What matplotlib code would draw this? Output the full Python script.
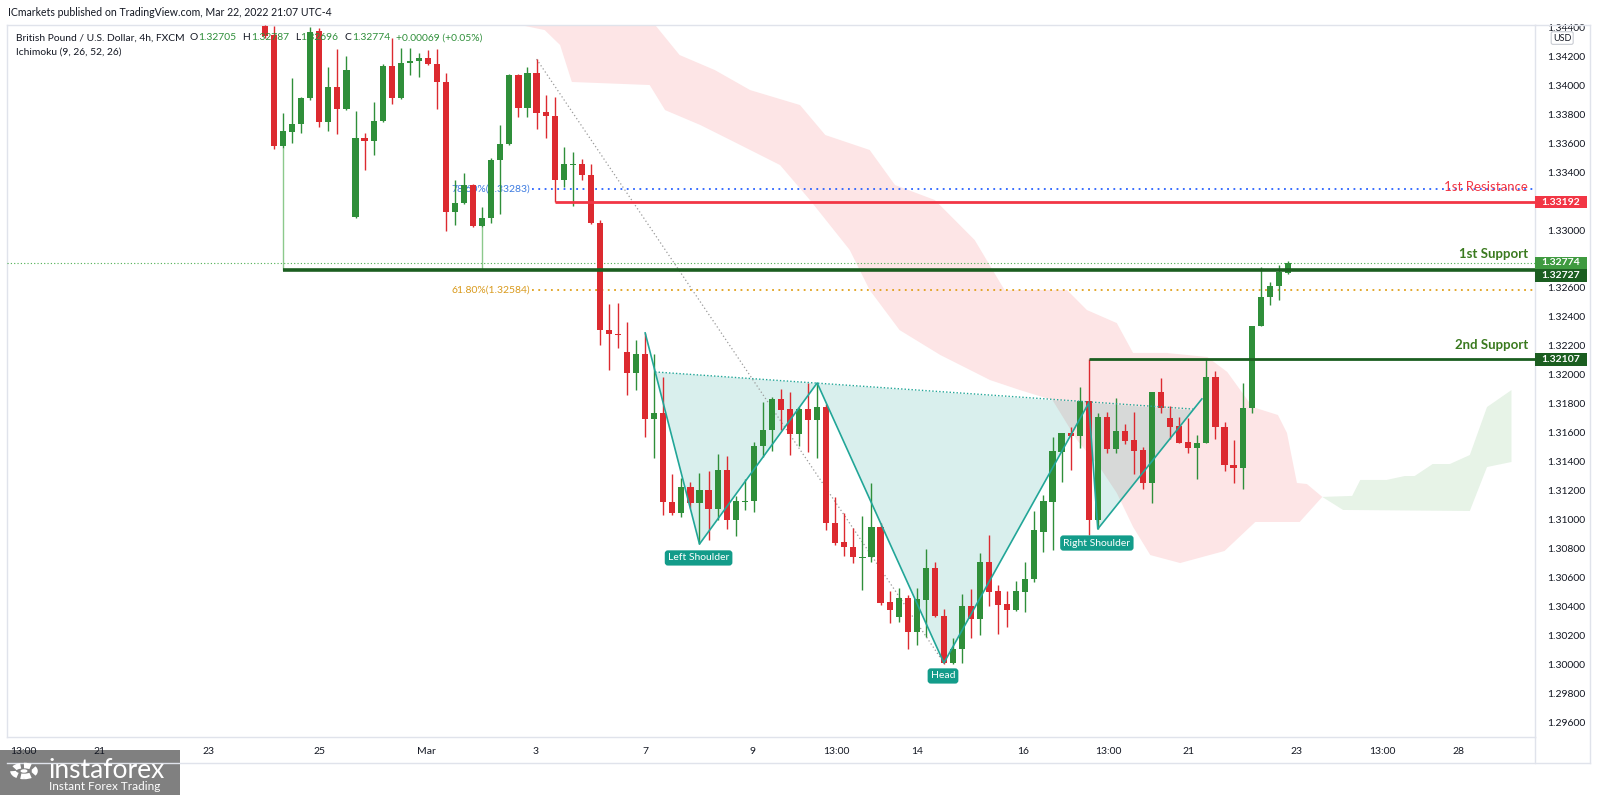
import numpy as np
import matplotlib
matplotlib.use('Agg')
import matplotlib.pyplot as plt
from matplotlib import transforms
from matplotlib.patches import Rectangle, Circle
from matplotlib.lines import Line2D

plt.rcParams['font.family'] = ['Lato', 'DejaVu Sans']

# GBPUSD 4h candles (first visible bar = index 0)
opens = [1.34407, 1.34345, 1.33579, 1.33676, 1.33731, 1.33910, 1.34372, 1.33745, 1.33986, 1.33834,
         1.33090, 1.33634, 1.33614, 1.33752, 1.34131, 1.33910, 1.34152, 1.34165, 1.34186, 1.34145,
         1.34021, 1.33124, 1.33186, 1.33310, 1.33027, 1.33083, 1.33483, 1.33593, 1.34069, 1.33841,
         1.34083, 1.33814, 1.33786, 1.33345, 1.33448, 1.33455, 1.33379, 1.33048, 1.32310, 1.32283,
         1.32159, 1.32014, 1.32145, 1.31697, 1.31738, 1.31124, 1.31048, 1.31227, 1.31117, 1.31207,
         1.31076, 1.31345, 1.31000, 1.31124, 1.31131, 1.31510, 1.31621, 1.31835, 1.31766, 1.31593,
         1.31766, 1.31690, 1.31779, 1.30979, 1.30848, 1.30814, 1.30738, 1.30745, 1.30952, 1.30434,
         1.30331, 1.30462, 1.30228, 1.30448, 1.30669, 1.30338, 1.30014, 1.30110, 1.30407, 1.30317,
         1.30710, 1.30510, 1.30421, 1.30379, 1.30503, 1.30593, 1.30917, 1.31124, 1.31469, 1.31600,
         1.31579, 1.31821, 1.31000, 1.31710, 1.31490, 1.31614, 1.31552, 1.31483, 1.31255, 1.31883,
         1.31703, 1.31648, 1.31538, 1.31496, 1.31531, 1.31986, 1.31641, 1.31379, 1.31359, 1.31772,
         1.32338, 1.32538, 1.32614, 1.32705]
highs = [1.34414, 1.34407, 1.33807, 1.34048, 1.33917, 1.34400, 1.34393, 1.34124, 1.34248, 1.34200,
         1.33820, 1.33669, 1.33883, 1.34145, 1.34324, 1.34255, 1.34255, 1.34221, 1.34241, 1.34248,
         1.34083, 1.33345, 1.33393, 1.33317, 1.33159, 1.33496, 1.33724, 1.34076, 1.34076, 1.34124,
         1.34179, 1.33931, 1.33917, 1.33572, 1.33538, 1.33490, 1.33455, 1.33069, 1.32490, 1.32497,
         1.32365, 1.32241, 1.32290, 1.32145, 1.31986, 1.31317, 1.31290, 1.31262, 1.31324, 1.31338,
         1.31455, 1.31441, 1.31166, 1.31283, 1.31538, 1.31814, 1.31848, 1.31903, 1.31883, 1.31779,
         1.31945, 1.31945, 1.31800, 1.31159, 1.31048, 1.30945, 1.31028, 1.31255, 1.30979, 1.30510,
         1.30531, 1.30483, 1.30531, 1.30800, 1.30710, 1.30386, 1.30186, 1.30490, 1.30524, 1.30772,
         1.30896, 1.30552, 1.30510, 1.30579, 1.30710, 1.31062, 1.31172, 1.31572, 1.31600, 1.31641,
         1.31917, 1.32110, 1.31738, 1.31745, 1.31841, 1.31662, 1.31745, 1.31503, 1.31883, 1.31979,
         1.31786, 1.31710, 1.31703, 1.31586, 1.32110, 1.32028, 1.31676, 1.31552, 1.31945, 1.32338,
         1.32745, 1.32641, 1.32759, 1.32787]
lows = [1.34324, 1.33558, 1.33565, 1.33600, 1.33669, 1.33896, 1.33710, 1.33683, 1.33662, 1.33827,
        1.33083, 1.33414, 1.33517, 1.33745, 1.33869, 1.33903, 1.34069, 1.34055, 1.34138, 1.33834,
        1.32993, 1.33034, 1.33179, 1.33021, 1.33021, 1.33048, 1.33110, 1.33586, 1.33779, 1.33779,
        1.33696, 1.33634, 1.33193, 1.33296, 1.33166, 1.33345, 1.33041, 1.32207, 1.32034, 1.32186,
        1.31862, 1.31897, 1.31572, 1.31427, 1.31034, 1.31034, 1.31021, 1.31083, 1.30834, 1.30862,
        1.31000, 1.30938, 1.30890, 1.31069, 1.31055, 1.31434, 1.31476, 1.31621, 1.31448, 1.31510,
        1.31469, 1.31427, 1.30931, 1.30827, 1.30752, 1.30703, 1.30517, 1.30710, 1.30414, 1.30290,
        1.30297, 1.30110, 1.30138, 1.30193, 1.30331, 1.30007, 1.30007, 1.30014, 1.30186, 1.30207,
        1.30407, 1.30214, 1.30262, 1.30372, 1.30366, 1.30572, 1.30779, 1.30793, 1.31262, 1.31345,
        1.31496, 1.30896, 1.30938, 1.31462, 1.31462, 1.31524, 1.31317, 1.31214, 1.31117, 1.31738,
        1.31559, 1.31531, 1.31462, 1.31283, 1.31531, 1.31559, 1.31338, 1.31255, 1.31214, 1.31738,
        1.32338, 1.32483, 1.32517, 1.32696]
closes = [1.34338, 1.33579, 1.33683, 1.33731, 1.33910, 1.34365, 1.33745, 1.33986, 1.33834, 1.34103,
          1.33634, 1.33614, 1.33752, 1.34131, 1.33910, 1.34152, 1.34165, 1.34186, 1.34145, 1.34021,
          1.33124, 1.33186, 1.33310, 1.33027, 1.33083, 1.33483, 1.33593, 1.34069, 1.33841, 1.34083,
          1.33807, 1.33786, 1.33345, 1.33455, 1.33455, 1.33379, 1.33048, 1.32310, 1.32283, 1.32276,
          1.32014, 1.32145, 1.31697, 1.31738, 1.31124, 1.31048, 1.31227, 1.31117, 1.31207, 1.31076,
          1.31345, 1.31000, 1.31131, 1.31131, 1.31510, 1.31621, 1.31835, 1.31759, 1.31593, 1.31766,
          1.31690, 1.31779, 1.30979, 1.30841, 1.30814, 1.30745, 1.30745, 1.30952, 1.30428, 1.30379,
          1.30462, 1.30228, 1.30455, 1.30669, 1.30338, 1.30014, 1.30110, 1.30407, 1.30317, 1.30710,
          1.30503, 1.30414, 1.30379, 1.30510, 1.30593, 1.30931, 1.31131, 1.31476, 1.31600, 1.31579,
          1.31821, 1.31000, 1.31710, 1.31490, 1.31614, 1.31545, 1.31476, 1.31255, 1.31883, 1.31772,
          1.31641, 1.31531, 1.31496, 1.31531, 1.31986, 1.31641, 1.31379, 1.31359, 1.31772, 1.32338,
          1.32538, 1.32614, 1.32710, 1.32774]

# time axis labels (bar index, text)
tick_pos = [-26.7, -18.3, -6.2, 6.0, 17.8, 29.9, 42.0, 53.9, 63.1, 72.0, 83.8, 93.2, 102.0, 114.0, 123.4, 131.8]
tick_lbl = ['13:00', '21', '23', '25', 'Mar', '3', '7', '9', '13:00', '14', '16', '13:00', '21', '23', '13:00', '28']

# ichimoku cloud outlines (bar index, price)
red_top_x = [28.2, 43.1, 45.8, 49.7, 53.6, 59.1, 61.9, 66.8, 69.6, 74.0, 78.4, 81.7, 88.6, 90.8, 94.1,
             95.9, 99.6, 104.1, 106.3, 109.1, 111.9, 112.9, 114.0, 115.1, 116.8]
red_top_p = [1.34414, 1.34414, 1.34207, 1.34103, 1.33965, 1.33862, 1.33655, 1.33552, 1.33310, 1.33207,
             1.32931, 1.32586, 1.32586, 1.32448, 1.32358, 1.32152, 1.32152, 1.32124, 1.32021, 1.31779,
             1.31724, 1.31600, 1.31255, 1.31248, 1.31159]
red_bot_x = [28.2, 30.9, 32.6, 33.9, 42.5, 44.2, 48.1, 51.4, 56.9, 60.2, 64.6, 66.8, 70.1, 74.6, 80.1,
             83.4, 87.0, 89.7, 92.2, 94.1, 95.9, 97.8, 101.1, 106.0, 109.4, 114.3, 116.8]
red_bot_p = [1.34414, 1.34379, 1.34276, 1.34021, 1.34000, 1.33827, 1.33724, 1.33621, 1.33448, 1.33207,
             1.32862, 1.32586, 1.32310, 1.32138, 1.31965, 1.31896, 1.31827, 1.31552, 1.31365, 1.31186,
             1.30952, 1.30758, 1.30703, 1.30786, 1.30986, 1.30986, 1.31159]
green_top_x = [116.8, 120.1, 121.0, 123.9, 125.9, 127.0, 129.0, 130.9, 133.1, 135.0, 137.7]
green_top_p = [1.31159, 1.31166, 1.31276, 1.31276, 1.31303, 1.31303, 1.31386, 1.31386, 1.31448, 1.31779, 1.31896]
green_bot_x = [116.8, 119.1, 133.1, 135.0, 137.7]
green_bot_p = [1.31159, 1.31069, 1.31062, 1.31365, 1.31400]

# head & shoulders zigzag and neckline
hs_x = [42, 48, 61, 75, 91, 92, 103.5]
hs_p = [1.32290, 1.30834, 1.31945, 1.30014, 1.31807, 1.30938, 1.31835]
neck_x = [43.1, 102.5]
neck_p = [1.32021, 1.31765]

# levels
fib_hi = (30, 1.34179)
fib_lo = (75, 1.30014)
fib_786 = 1.33283
fib_618 = 1.32584
res1 = 1.33192
sup1 = 1.32727
sup2 = 1.32107
last = 1.32774

GREEN = '#2f8f3a'
RED = '#dc2a30'
DKGREEN = '#1b5e20'
TEAL = '#22a698'
GRID = '#e0e3eb'
TXT = '#131722'

W, H = 1600, 795
fig = plt.figure(figsize=(16, 7.95), dpi=100)
fig.patch.set_facecolor('white')
ax = fig.add_axes([7 / W, 58 / H, 1528 / W, 712 / H])
x0, x1 = -28.5, 140.3
ax.set_xlim(x0, x1)
ax.set_ylim(1.29503, 1.34414)

# cloud
ax.fill(red_top_x + red_bot_x[::-1], red_top_p + red_bot_p[::-1], color='#fde5e6', lw=0, zorder=1)
ax.fill(green_top_x + green_bot_x[::-1], green_top_p + green_bot_p[::-1], color='#e7f3e7', lw=0, zorder=1)

# pattern fill (between zigzag and neckline)
poly_x = [neck_x[0]] + hs_x[1:6] + [neck_x[1]]
poly_p = [neck_p[0]] + hs_p[1:6] + [1.31757]
ax.fill(poly_x, poly_p, color=(0, 150 / 255, 136 / 255), alpha=0.15, lw=0, zorder=2)

# fib
ax.plot([fib_hi[0], fib_lo[0]], [fib_hi[1], fib_lo[1]], color='#9a9a9a', lw=0.9, ls=(0, (1, 2)), zorder=3)
ax.hlines(fib_786, 29.5, x1, color='#2962ff', lw=1.3, linestyles=(0, (1, 2.5)), zorder=3)
ax.hlines(fib_618, 29.5, x1, color='#e0a01a', lw=1.3, linestyles=(0, (1, 2.5)), zorder=3)
ax.text(29.3, fib_786, '78.60%(1.33283)', ha='right', va='center', color='#3d7be0', fontsize=7.5, zorder=3)
ax.text(29.3, fib_618, '61.80%(1.32584)', ha='right', va='center', color='#d99a1c', fontsize=7.5, zorder=3)

# last price line
ax.hlines(last, x0, x1, color='#4caf50', lw=0.8, linestyles=(0, (1, 2)), zorder=3)

# candles
idx = np.arange(len(opens))
o = np.array(opens)
h = np.array(highs)
l = np.array(lows)
c = np.array(closes)
cols = np.where(c >= o, GREEN, RED)
ax.vlines(idx, l, h, colors=cols, lw=1.0, zorder=5)
ax.bar(idx, np.maximum(np.abs(c - o), 0.00008), bottom=np.minimum(o, c), width=0.68,
       color=cols, lw=0, zorder=6)

# support / resistance
ax.hlines(res1, 32, x1, color='#f23645', lw=2, zorder=7)
ax.hlines(sup1, 2, x1, color=DKGREEN, lw=2.6, zorder=7)
ax.vlines([2, 24], [lows[2], lows[24]], sup1, color='#8cc98c', lw=1, zorder=4)
ax.hlines(sup2, 91, x1, color=DKGREEN, lw=2, zorder=7)
ax.text(139.5, res1 + 0.0006, '1st Resistance', ha='right', va='bottom', color='#f23645', fontsize=9.5, zorder=8)
ax.text(139.5, last + 0.0002, '1st Support', ha='right', va='bottom', color='#3a7a1f', fontsize=9.5,
        fontweight='bold', zorder=8)
ax.text(139.5, sup2 + 0.0006, '2nd Support', ha='right', va='bottom', color='#3a7a1f', fontsize=9.5,
        fontweight='bold', zorder=8)

# head & shoulders
ax.plot(hs_x, hs_p, color=TEAL, lw=1.2, zorder=8)
ax.plot(neck_x, neck_p, color=TEAL, lw=1, ls=(0, (1, 1.5)), zorder=8)
box = dict(boxstyle='round,pad=0.3,rounding_size=0.3', fc='#139c8a', ec='none')
ax.text(47.9, 1.30738, 'Left Shoulder', ha='center', va='center', color='white', fontsize=7.5, bbox=box, zorder=9)
ax.text(74.9, 1.29924, 'Head', ha='center', va='center', color='white', fontsize=7.5, bbox=box, zorder=9)
ax.text(91.9, 1.30841, 'Right Shoulder', ha='center', va='center', color='white', fontsize=7.5, bbox=box, zorder=9)

# axes styling
for s in ax.spines.values():
    s.set_color(GRID)
    s.set_linewidth(1)
ax.yaxis.tick_right()
yt = np.arange(1.296, 1.3441, 0.002)
hidden = [1.332, 1.328]  # covered by the price boxes in the reference
ax.set_yticks(yt)
ax.set_yticklabels(['' if min(abs(v - hv) for hv in hidden) < 1e-6 else '{:.5f}'.format(v) for v in yt])
ax.tick_params(axis='y', length=0, pad=9, labelsize=7.5, labelcolor=TXT)
ax.set_xticks(tick_pos)
ax.set_xticklabels(tick_lbl)
ax.tick_params(axis='x', length=0, pad=7, labelsize=7.5, labelcolor=TXT)

# price boxes on the axis
bt = transforms.blended_transform_factory(ax.transAxes, ax.transData)
bh = 12.5 / 14500
bw = 52 / 1528


def price_box(val, color, yc=None):
    yc = val if yc is None else yc
    ax.add_patch(Rectangle((1.0, yc - bh / 2), bw, bh, transform=bt, fc=color, ec='none',
                           clip_on=False, zorder=20))
    ax.text(1.0 + bw / 2, yc, '{:.5f}'.format(val), transform=bt, ha='center', va='center',
            color='white', fontsize=7.5, fontweight='bold', clip_on=False, zorder=21)


price_box(res1, '#f23645')
price_box(last, '#3f9a40')
price_box(sup1, DKGREEN, last - bh - 0.00003)
price_box(sup2, DKGREEN)
ax.text(1.0178, 1.34324, 'USD', transform=bt, ha='center', va='center', color=TXT, fontsize=6.5,
        bbox=dict(boxstyle='round,pad=0.2', fc='white', ec='#c9ccd3', lw=0.8), clip_on=False, zorder=21)

# frame lines around the time axis / price axis
fig.add_artist(Line2D([7 / W, 1590 / W], [1 - 763 / H] * 2, color=GRID, lw=1))
fig.add_artist(Line2D([1535 / W] * 2, [1 - 763 / H, 1 - 737 / H], color=GRID, lw=1))
fig.add_artist(Line2D([1590 / W] * 2, [1 - 763 / H, 1 - 25 / H], color=GRID, lw=1))
fig.add_artist(Line2D([1535 / W, 1590 / W], [1 - 25 / H] * 2, color=GRID, lw=1))

# header texts
fig.text(8 / W, 1 - 13 / H, 'ICmarkets published on TradingView.com, Mar 22, 2022 21:07 UTC-4',
         fontsize=7.6, color=TXT, va='center')
rend = fig.canvas.get_renderer()
hdr = [('British Pound / U.S. Dollar, 4h, FXCM', TXT, 5), ('O', TXT, 0.5), ('1.32705', GREEN, 6),
       ('H', TXT, 0.5), ('1.32787', GREEN, 6), ('L', TXT, 0.5), ('1.32696', GREEN, 6),
       ('C', TXT, 0.5), ('1.32774', GREEN, 6), ('+0.00069 (+0.05%)', GREEN, 0)]
xp = 16
for t, col, gap in hdr:
    tx = fig.text(xp / W, 1 - 38 / H, t, fontsize=7.4, color=col, va='center')
    xp = tx.get_window_extent(renderer=rend).x1 + gap
fig.text(16 / W, 1 - 52 / H, 'Ichimoku (9, 26, 52, 26)', fontsize=7.4, color=TXT, va='center')

# instaforex badge (under the time labels)
fig.add_artist(Rectangle((0, 0), 180 / W, 45 / H, transform=fig.transFigure, fc='#808080', ec='none', zorder=-1))
fig.add_artist(Circle((24 / W, 1 - 771 / H), 11 / W, transform=fig.transFigure, fc='none', ec='white',
                      lw=4, ls=(0, (1.2, 0.6)), zorder=31))
fig.add_artist(Circle((24 / W, 1 - 771 / H), 3.5 / W, transform=fig.transFigure, fc='white', ec='none', zorder=31))
fig.text(48 / W, 1 - 771 / H, 'instaforex', fontsize=19, color='white', va='center', zorder=32)
fig.text(49 / W, 1 - 787 / H, 'Instant Forex Trading', fontsize=8.5, color='white', va='center', zorder=32)

fig.savefig('out.png', dpi=100, facecolor='white')
